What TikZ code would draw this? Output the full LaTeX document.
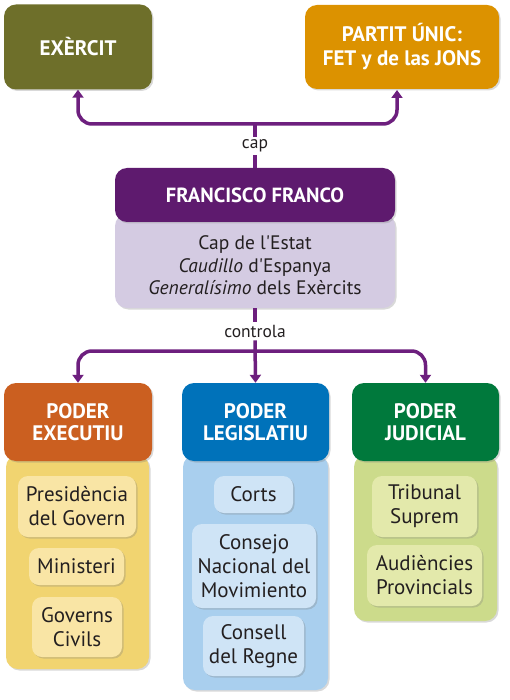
\documentclass[tikz,border=0pt]{standalone}
\usepackage{fontspec}
\setmainfont{PT Sans}[Ligatures=TeXOff]
\usetikzlibrary{arrows.meta,shadows}
\definecolor{txt}{HTML}{231F20}
\definecolor{connc}{HTML}{6D1F7E}
\definecolor{olive}{HTML}{6E6F2A}
\definecolor{gold}{HTML}{DC9200}
\definecolor{dpurple}{HTML}{5E1A6E}
\definecolor{lpurple}{HTML}{D4CBE2}
\definecolor{exeh}{HTML}{CB5F20}
\definecolor{exeb}{HTML}{F1D470}
\definecolor{exei}{HTML}{F9E5A5}
\definecolor{legh}{HTML}{0072BA}
\definecolor{legb}{HTML}{A9CFEE}
\definecolor{legi}{HTML}{CFE4F6}
\definecolor{judh}{HTML}{00793C}
\definecolor{judb}{HTML}{CCDB8B}
\definecolor{judi}{HTML}{E3E9AB}
\begin{document}
\begin{tikzpicture}[x=1pt,y=-1pt,
  box/.style={rectangle, rounded corners=12pt, inner sep=0pt, align=center,
    drop shadow={opacity=0.3,shadow xshift=1.5pt,shadow yshift=-1.5pt}},
  head/.style={box, text=white, font=\fontsize{21}{22.5}\selectfont\bfseries},
  bodybox/.style={box},
  item/.style={box, rounded corners=10pt, text=txt, font=\fontsize{21}{24}\selectfont},
  conn/.style={draw=connc, line width=3.5pt},
  arr/.style={conn, -{Triangle[width=11pt,length=8pt]}},
  lab/.style={font=\fontsize{17.5}{19}\selectfont, text=txt, inner sep=3pt}]
\useasboundingbox (0,0) rectangle (509,700);

% top boxes
\node[head, fill=olive, minimum width=148pt, minimum height=85pt] (exercit) at (78,47) {EXÈRCIT};
\node[head, fill=gold, minimum width=194pt, minimum height=84pt, font=\fontsize{21}{24}\selectfont\bfseries] (partit) at (402,47) {PARTIT ÚNIC:\\FET y de las JONS};

% Franco
\node[box, fill=lpurple, minimum width=280pt, minimum height=94pt, text=txt,
  font=\fontsize{19.5}{22.5}\selectfont] (info) at (255,261) {\\[0pt]Cap de l'Estat\\\textit{Caudillo} d'Espanya\\\textit{Generalísimo} dels Exèrcits};
\node[head, fill=dpurple, minimum width=280pt, minimum height=54pt, font=\fontsize{20.5}{22}\selectfont\bfseries] (franco) at (255,195) {FRANCISCO FRANCO};

% connectors top
\node[lab] (cap) at (255,146) {cap};
\coordinate (tj) at (255,124);
\coordinate (pa) at (397,90);
\draw[conn] (franco.north) -- (cap.south);
\draw[conn] (cap.north) -- (tj);
\draw[arr, rounded corners=14pt] (tj) -| (exercit.south);
\draw[arr, rounded corners=14pt] (tj) -| (pa);

% bodies
\node[bodybox, fill=exeb, minimum width=143pt, minimum height=214pt] (exeb) at (77.5,562) {};
\node[bodybox, fill=legb, minimum width=145pt, minimum height=235pt] (legb) at (255.5,572.5) {};
\node[bodybox, fill=judb, minimum width=143pt, minimum height=166pt] (judb) at (425.5,538) {};

% headers
\node[head, fill=exeh, minimum width=148pt, minimum height=78pt] (exe) at (78,422) {PODER\\EXECUTIU};
\node[head, fill=legh, minimum width=147pt, minimum height=78pt] (leg) at (255.5,422) {PODER\\LEGISLATIU};
\node[head, fill=judh, minimum width=147pt, minimum height=78pt] (jud) at (425.5,422) {PODER\\JUDICIAL};

% bottom connectors
\node[lab] (ctl) at (255,331) {controla};
\coordinate (bj) at (255,351);
\draw[conn] (info.south) -- (ctl.north);
\draw[arr] (ctl.south) -- (leg.north);
\draw[arr, rounded corners=14pt] (bj) -| (exe.north);
\draw[arr, rounded corners=14pt] (bj) -| (jud.north);

% items
\node[item, fill=exei, minimum width=118pt, minimum height=61pt] (pres) at (77,506.5) {Presidència\\del Govern};
\node[item, fill=exei, minimum width=95pt, minimum height=37pt] (mini) at (76.5,566.5) {Ministeri};
\node[item, fill=exei, minimum width=90pt, minimum height=60pt] (gov) at (77,627) {Governs\\Civils};
\node[item, fill=legi, minimum width=79pt, minimum height=37pt] (corts) at (253.5,494.5) {Corts};
\node[item, fill=legi, minimum width=124pt, minimum height=84pt] (consejo) at (254,566) {Consejo\\Nacional del\\Movimiento};
\node[item, fill=legi, minimum width=101pt, minimum height=60pt] (consell) at (253.5,646) {Consell\\del Regne};
\node[item, fill=judi, minimum width=105pt, minimum height=61pt] (trib) at (424.5,506.5) {Tribunal\\Suprem};
\node[item, fill=judi, minimum width=115pt, minimum height=61pt] (aud) at (424.5,575.5) {Audiències\\Provincials};
\end{tikzpicture}
\end{document}
